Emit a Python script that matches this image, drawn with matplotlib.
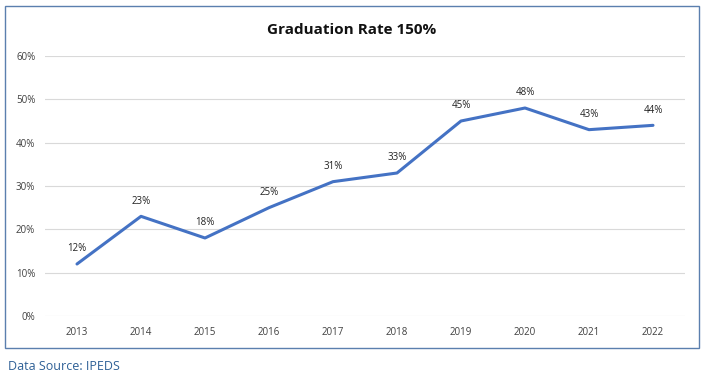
import matplotlib
matplotlib.use('Agg')
from matplotlib import pyplot as plt
from matplotlib.patches import Rectangle
from matplotlib.ticker import PercentFormatter

# Данные
years = ['2013', '2014', '2015', '2016', '2017', '2018', '2019', '2020', '2021', '2022']
rates = [12, 23, 18, 25, 31, 33, 45, 48, 43, 44]

plt.rcParams['font.family'] = ['Open Sans', 'DejaVu Sans']

fig = plt.figure(figsize=(7.05, 3.77), dpi=100)

# Рамка диаграммы
fig.patches.append(Rectangle((5 / 705, 29 / 377), 694 / 705, 342 / 377,
                             transform=fig.transFigure, fill=False,
                             edgecolor='#5b7fae', linewidth=1.0))

ax = fig.add_axes([45 / 705, 61 / 377, 640 / 705, 260 / 377])
x = range(len(years))
ax.plot(x, rates, color='#4472C4', linewidth=2.2, solid_capstyle='round')

for xi, v in zip(x, rates):
    ax.annotate(f'{v}%', (xi, v), xytext=(0, 7), textcoords='offset points',
                ha='center', va='bottom', fontsize=7, color='#222222')

ax.set_xlim(-0.5, len(years) - 0.5)
ax.set_ylim(0, 60)
ax.set_yticks(range(0, 61, 10))
ax.yaxis.set_major_formatter(PercentFormatter(decimals=0))
ax.set_xticks(list(x))
ax.set_xticklabels(years)
ax.tick_params(length=0, labelsize=7, colors='#404040')
ax.tick_params(axis='y', pad=7)
ax.tick_params(axis='x', pad=8)
ax.grid(axis='y', color='#d9d9d9', linewidth=0.8)
ax.set_axisbelow(True)
for s in ax.spines.values():
    s.set_visible(False)

fig.text(352 / 705, 1 - 30 / 377, 'Graduation Rate 150%', ha='center', va='center',
         fontsize=11, fontweight='bold', color='#111111')
fig.text(8 / 705, 11 / 377, 'Data Source: IPEDS', ha='left', va='center',
         fontsize=9, color='#2e6096')

fig.savefig('out.png', dpi=100)
